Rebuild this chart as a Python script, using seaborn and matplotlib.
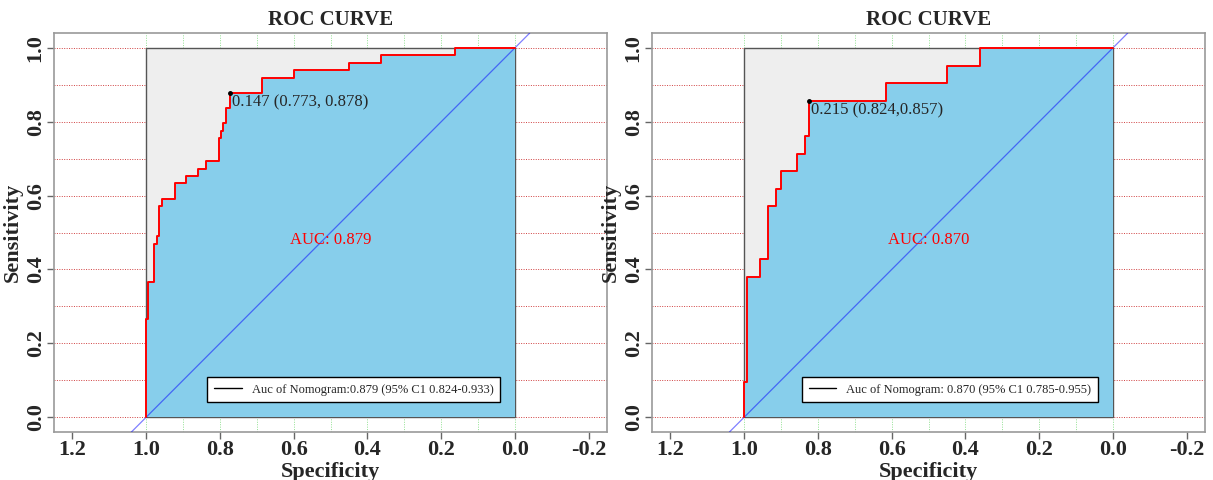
import numpy as np
import pandas as pd
import matplotlib
matplotlib.use("Agg")
import matplotlib.pyplot as plt
import seaborn as sns
from matplotlib.lines import Line2D
from matplotlib.patches import Rectangle

sns.set_style("white")
plt.rcParams['font.family'] = ['Liberation Serif', 'DejaVu Serif']
plt.rcParams['axes.unicode_minus'] = False

# ROC 좌표 (specificity, sensitivity) - 왼쪽 패널
spec_left = [1.000, 1.000, 0.996, 0.996, 0.978, 0.978, 0.971, 0.971, 0.964, 0.964,
             0.958, 0.958, 0.922, 0.922, 0.893, 0.893, 0.859, 0.859, 0.838, 0.838,
             0.803, 0.803, 0.798, 0.798, 0.791, 0.791, 0.784, 0.784, 0.773, 0.773,
             0.685, 0.685, 0.600, 0.600, 0.449, 0.449, 0.363, 0.363, 0.162, 0.162, 0.000]
sens_left = [0.000, 0.265, 0.265, 0.367, 0.367, 0.469, 0.469, 0.490, 0.490, 0.571,
             0.571, 0.592, 0.592, 0.633, 0.633, 0.653, 0.653, 0.673, 0.673, 0.694,
             0.694, 0.755, 0.755, 0.776, 0.776, 0.796, 0.796, 0.837, 0.837, 0.878,
             0.878, 0.918, 0.918, 0.939, 0.939, 0.959, 0.959, 0.980, 0.980, 1.000, 1.000]

# 오른쪽 패널
spec_right = [1.000, 1.000, 0.991, 0.991, 0.957, 0.957, 0.935, 0.935, 0.915, 0.915,
              0.901, 0.901, 0.858, 0.858, 0.835, 0.835, 0.824, 0.824, 0.616, 0.616,
              0.451, 0.451, 0.361, 0.361, 0.000]
sens_right = [0.000, 0.095, 0.095, 0.381, 0.381, 0.429, 0.429, 0.571, 0.571, 0.619,
              0.619, 0.667, 0.667, 0.714, 0.714, 0.762, 0.762, 0.857, 0.857, 0.905,
              0.905, 0.952, 0.952, 1.000, 1.000]

best_left = (0.773, 0.878)
best_right = (0.824, 0.857)
best_text = ["0.147 (0.773, 0.878)", "0.215 (0.824,0.857)"]
auc_text = ["AUC: 0.879", "AUC: 0.870"]
legend_text = ["Auc of Nomogram:0.879 (95% C1 0.824-0.933)",
               "Auc of Nomogram: 0.870 (95% C1 0.785-0.955)"]

x_ticks = [1.2, 1.0, 0.8, 0.6, 0.4, 0.2, 0.0, -0.2]
y_ticks = [0.0, 0.2, 0.4, 0.6, 0.8, 1.0]

fig = plt.figure(figsize=(12.13, 4.8), dpi=100)
ax1 = fig.add_axes([0.0445, 0.1, 0.456, 0.831])
ax2 = fig.add_axes([0.5375, 0.1, 0.456, 0.831])

panels = [
    (ax1, spec_left, sens_left, best_left, best_text[0], auc_text[0], legend_text[0]),
    (ax2, spec_right, sens_right, best_right, best_text[1], auc_text[1], legend_text[1]),
]

for ax, spec, sens, best, btxt, atxt, ltxt in panels:
    df = pd.DataFrame({'Specificity': spec, 'Sensitivity': sens})
    ax.set_xlim(1.25, -0.25)
    ax.set_ylim(-0.04, 1.04)

    # 격자선
    for g in np.arange(0, 1.01, 0.1):
        ax.axhline(g, color='#d04040', lw=0.7, ls=(0, (1, 1.5)), zorder=0)
        ax.axvline(g, color='#90e090', lw=0.7, ls=(0, (1, 1.5)), zorder=0)

    # 회색 배경 사각형
    ax.add_patch(Rectangle((0, 0), 1, 1, facecolor='#eeeeee', edgecolor='#555555',
                           lw=1.0, zorder=1))
    ax.fill_between(df['Specificity'], df['Sensitivity'], 0, color='#87ceeb',
                    lw=0, zorder=2)
    ax.axline((1, 0), (0, 1), color='blue', alpha=0.5, lw=0.9, zorder=3)

    sns.lineplot(data=df, x='Specificity', y='Sensitivity', sort=False,
                 estimator=None, color='red', lw=1.4, ax=ax, zorder=4)
    ax.plot([best[0]], [best[1]], 'o', color='black', ms=2.5, zorder=5)
    ax.text(best[0] - 0.005, best[1] - 0.005, btxt, fontsize=12, ha='left',
            va='top', zorder=6)
    ax.text(0.5, 0.48, atxt, color='red', fontsize=12, ha='center', va='center',
            zorder=6)

    handle = Line2D([], [], color='black', lw=1.0)
    leg = ax.legend([handle], [ltxt], loc='lower right',
                    bbox_to_anchor=(0.04, 0.04), bbox_transform=ax.transData,
                    fontsize=9, frameon=True, fancybox=False, handlelength=2.2,
                    borderpad=0.55, borderaxespad=0, framealpha=1)
    leg.get_frame().set_edgecolor('black')
    leg.get_frame().set_facecolor('white')
    leg.get_frame().set_linewidth(1.0)
    leg.set_zorder(7)

    ax.set_xticks(x_ticks)
    ax.set_xticklabels([f"{t:.1f}" for t in x_ticks])
    ax.set_yticks(y_ticks)
    ax.set_yticklabels([f"{t:.1f}" for t in y_ticks], rotation=90, va='center')
    for lab in ax.get_xticklabels() + ax.get_yticklabels():
        lab.set_fontweight('bold')
        lab.set_fontsize(16)
    ax.tick_params(axis='both', direction='out', length=5, width=1,
                   color='#666666', bottom=True, left=True, pad=1)
    for sp in ax.spines.values():
        sp.set_color('#999999')
        sp.set_linewidth(1.2)

    ax.set_xlabel('Specificity', fontsize=16, fontweight='bold', labelpad=1)
    ax.set_ylabel('Sensitivity', fontsize=16, fontweight='bold', labelpad=2)
    ax.set_title('ROC CURVE', fontsize=15, fontweight='bold', pad=6)

plt.savefig('out.png', dpi=100)
